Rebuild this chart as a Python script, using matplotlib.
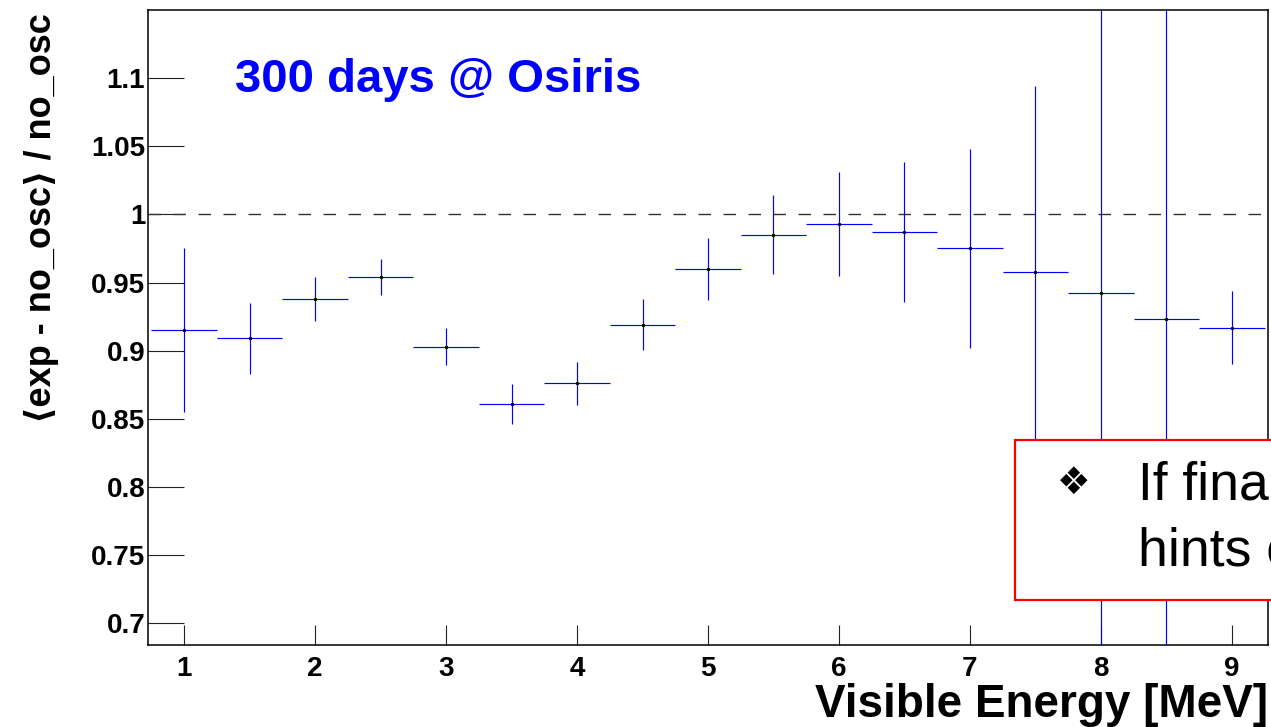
import matplotlib
matplotlib.use("Agg")
import matplotlib.pyplot as plt
from matplotlib.patches import Rectangle

# ratio (exp - no_osc)/no_osc per 0.5 MeV bin
energy = [1.0, 1.5, 2.0, 2.5, 3.0, 3.5, 4.0, 4.5, 5.0,
          5.5, 6.0, 6.5, 7.0, 7.5, 8.0, 8.5, 9.0]
ratio = [0.915, 0.909, 0.938, 0.954, 0.903, 0.861, 0.876, 0.919, 0.960,
         0.985, 0.993, 0.987, 0.975, 0.958, 0.942, 0.923, 0.917]
ratio_err = [0.060, 0.026, 0.016, 0.0135, 0.0135, 0.0147, 0.0157, 0.0187, 0.023,
             0.029, 0.038, 0.0515, 0.073, 0.136, 0.28, 0.30, 0.027]
bin_half = 0.25

x_ticks = [1, 2, 3, 4, 5, 6, 7, 8, 9]
y_ticks = [0.7, 0.75, 0.8, 0.85, 0.9, 0.95, 1.0, 1.05, 1.1]
y_tick_labels = ["0.7", "0.75", "0.8", "0.85", "0.9", "0.95", "1", "1.05", "1.1"]

title_txt = "300 days @ Osiris"
xlabel_txt = "Visible Energy [MeV]"
ylabel_txt = "\u27e8exp - no_osc\u27e9 / no_osc"
box_lines = ["If final", "hints o"]

FONTS = ["Liberation Sans", "DejaVu Sans"]
plt.rcParams["font.family"] = FONTS

W, H = 1271, 727
fig = plt.figure(figsize=(W / 100, H / 100), dpi=100, facecolor="white")
ax = fig.add_axes([148 / W, (H - 645) / H, (1268 - 148) / W, (645 - 10) / H])

ax.errorbar(energy, ratio, xerr=bin_half, yerr=ratio_err, fmt="none",
            ecolor="#0000ff", elinewidth=0.85, capsize=0, zorder=3)
ax.plot(energy, ratio, ls="none", marker="s", ms=1.2, color="black", zorder=4)
ax.axhline(1.0, color="#333333", lw=1.0, dashes=(9, 9), zorder=2)

ax.set_xlim(0.725, 9.275)
ax.set_ylim(0.684, 1.15)
ax.set_xticks(x_ticks)
ax.set_xticklabels([str(t) for t in x_ticks])
ax.set_yticks(y_ticks)
ax.set_yticklabels(y_tick_labels)
ax.tick_params(axis="x", direction="in", length=14.4, width=0.8, pad=8,
               labelsize=20, color="#222222")
ax.tick_params(axis="y", direction="in", length=26, width=0.8, pad=2,
               labelsize=20, color="#222222")
for lab in ax.get_xticklabels() + ax.get_yticklabels():
    lab.set_fontweight("bold")
for sp in ax.spines.values():
    sp.set_linewidth(1.1)
    sp.set_color("black")

fig.text(235 / W, 1 - 92 / H, title_txt, color="#0000ff", fontsize=34,
         fontweight="bold", ha="left", va="baseline")
fig.text(1268 / W, 1 - 717 / H, xlabel_txt, fontsize=33, fontweight="bold",
         ha="right", va="baseline")
fig.text(41 / W, 1 - 13 / H, ylabel_txt, fontsize=26, fontweight="bold",
         rotation=90, ha="center", va="top")

# red text box, runs off the right edge of the slide
fig.patches.append(Rectangle((1015 / W, 1 - 600 / H), 400 / W, 160 / H,
                             transform=fig.transFigure, facecolor="white",
                             edgecolor="#ff0000", lw=1.6, zorder=5))
fig.text(1074 / W, 1 - 484 / H, "\u2756", fontsize=27, ha="center",
         va="center", zorder=6)
fig.text(1138 / W, 1 - 500 / H, box_lines[0], fontsize=38.5, ha="left",
         va="baseline", zorder=6)
fig.text(1138 / W, 1 - 565 / H, box_lines[1], fontsize=38.5, ha="left",
         va="baseline", zorder=6)

fig.savefig("out.png", dpi=100, facecolor="white")
